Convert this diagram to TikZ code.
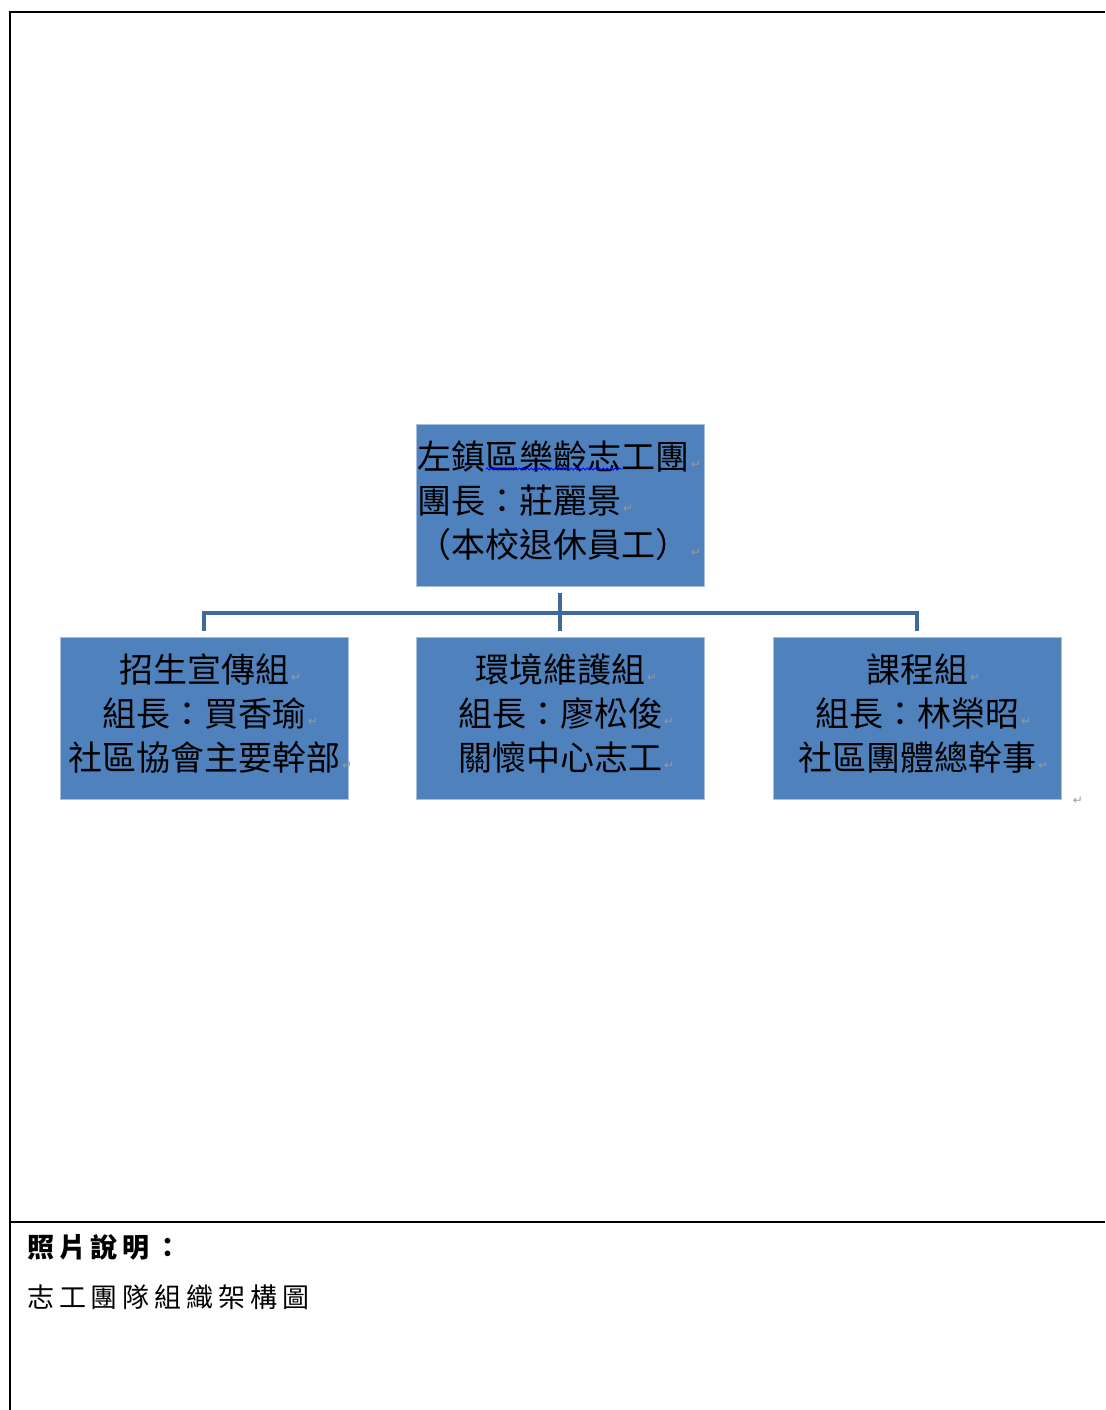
\documentclass[tikz,border=0pt]{standalone}
\usepackage{fontspec}
\newfontfamily\cjk{Noto Sans CJK TC}
\newfontfamily\cjkls[LetterSpace=18]{Noto Sans CJK TC}
\newfontfamily\symf{DejaVu Sans}
\usetikzlibrary{decorations.pathmorphing}
\definecolor{boxblue}{HTML}{4F81BD}
\definecolor{boxedge}{HTML}{A7BFDE}
\definecolor{connblue}{HTML}{3E6A9B}
\definecolor{markgrey}{HTML}{9A9A9A}
\newcommand\parmk{\hbox to 0pt{\kern2pt\raisebox{1pt}{\fontsize{12}{12}\symf\color{markgrey}↵}\hss}}
\tikzset{
  orgbox/.style={draw=boxedge, line width=0.8pt, fill=boxblue, minimum width=288pt, minimum height=162pt, inner sep=0pt},
  boxtext/.style={inner sep=0pt, font=\fontsize{34}{44}\cjk, text=black, yshift=4.5pt},
  conn/.style={draw=connblue, line width=4pt},
  frame/.style={line width=2pt, draw=black}
}
\begin{document}
\begin{tikzpicture}[x=1pt,y=-1pt]
\useasboundingbox (0,0) rectangle (1105,1410);
% frame
\draw[frame] (10,1410) -- (10,12) -- (1105,12);
\draw[frame] (10,1222) -- (1105,1222);
% boxes
\node[orgbox] (top) at (560,505.5) {};
\node[orgbox] (b1) at (204,718.5) {};
\node[orgbox] (b2) at (560,718.5) {};
\node[orgbox] (b3) at (917,718.5) {};
% box texts
\node[boxtext, text width=286pt, align=left] (topt) at (top.center) {左鎮區樂齡志工團\parmk\\團長：莊麗景\parmk\\（本校退休員工）\parmk};
\node[boxtext, align=center] (b1t) at (b1.center) {招生宣傳組\parmk\\組長：買香瑜\parmk\\社區協會主要幹部\parmk};
\node[boxtext, align=center] (b2t) at (b2.center) {環境維護組\parmk\\組長：廖松俊\parmk\\關懷中心志工\parmk};
\node[boxtext, align=center] (b3t) at (b3.center) {課程組\parmk\\組長：林榮昭\parmk\\社區團體總幹事\parmk};
% spell underline
\draw[blue, line width=0.8pt, decorate, decoration={snake, amplitude=1pt, segment length=4pt}] (486,469) -- (622,469);
% connectors
\coordinate (bus) at (560,613);
\draw[conn] ([yshift=-6pt]top.south) -- ([yshift=6pt]b2.north);
\draw[conn] ([yshift=6pt]b1.north) |- (bus) -| ([yshift=6pt]b3.north);
% stray paragraph mark
\node[font=\fontsize{12}{12}\symf, text=markgrey, inner sep=0pt] (pm) at (1078,801) {↵};
% caption
\node[anchor=west, inner sep=0pt, font=\fontsize{27}{27}\cjkls\bfseries] (cap1) at (27,1247) {照片說明：};
\node[anchor=west, inner sep=0pt, font=\fontsize{27}{27}\cjkls] (cap2) at (27,1297) {志工團隊組織架構圖};
\end{tikzpicture}
\end{document}
